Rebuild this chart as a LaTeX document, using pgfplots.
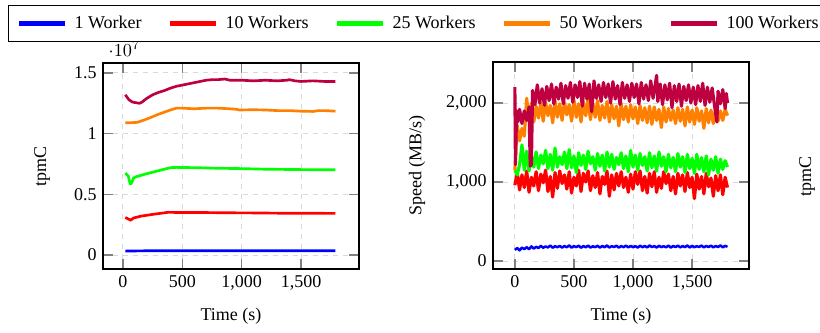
\documentclass[border=0pt]{standalone}
\usepackage{fontspec}
\setmainfont{Liberation Serif}
\usepackage{pgfplots}
\pgfplotsset{compat=1.18}
\definecolor{cpurple}{rgb}{0.75,0,0.25}
\definecolor{corange}{rgb}{1,0.5,0}
\definecolor{cgreen}{rgb}{0,1,0}
\pgfplotsset{
  myaxis/.style={
    scale only axis,
    anchor=south west,
    width=153.6pt,
    axis line style={line width=1.4pt},
    grid=major,
    grid style={dashed, gray!30, line width=0.6pt},
    tick align=inside,
    major tick length=6pt,
    tick style={gray, line width=0.8pt},
    /pgf/number format/assume math mode=true,
    xtick={0,500,1000,1500},
    xlabel={Time (s)},
    legend image code/.code={\draw[#1, line width=3pt] (0pt,0pt) -- (27.6pt,0pt);},
  },
}
\begin{document}
\fontsize{10.8}{13}\selectfont
\begin{tikzpicture}
% ---------------- left: tpmC ----------------
\begin{axis}[myaxis,
  at={(61.8pt,37.8pt)}, height=123.6pt,
  xmin=-168, xmax=1988, ymin=-0.115e7, ymax=1.582e7,
  ytick={0,0.5e7,1e7,1.5e7},
  ylabel={tpmC},
  x label style={at={(axis description cs:0.5,-0.228)},anchor=center},
  y label style={at={(axis description cs:-0.238,0.5)},anchor=center},
  legend columns=5,
  legend style={at={(-0.371,1.283)}, anchor=north west, draw=black, line width=0.6pt,
    inner xsep=5pt, inner ysep=4.2pt,
    /tikz/every even column/.append style={column sep=13.8pt},
    /tikz/every odd column/.append style={column sep=2pt}},
  legend cell align=left,
]
\addplot[blue, line width=1.6pt] coordinates {(20,0.033e7)(200,0.035e7)(1000,0.035e7)(1790,0.035e7)};
\addlegendentry{1 Worker}
\addplot[red, line width=1.6pt] coordinates {(20,0.31e7)(50,0.295e7)(65,0.288e7)(90,0.305e7)(150,0.32e7)(250,0.335e7)(380,0.352e7)(500,0.35e7)(700,0.35e7)(900,0.348e7)(1100,0.347e7)(1300,0.345e7)(1500,0.345e7)(1790,0.343e7)};
\addlegendentry{10 Workers}
\addplot[cgreen, line width=1.6pt] coordinates {(20,0.675e7)(45,0.65e7)(60,0.59e7)(70,0.59e7)(90,0.635e7)(110,0.645e7)(200,0.67e7)(300,0.695e7)(400,0.72e7)(450,0.722e7)(600,0.72e7)(800,0.715e7)(1000,0.712e7)(1200,0.707e7)(1400,0.705e7)(1600,0.703e7)(1790,0.702e7)};
\addlegendentry{25 Workers}
\addplot[corange, line width=1.6pt] coordinates {(20,1.09e7)(60,1.09e7)(120,1.093e7)(200,1.12e7)(300,1.16e7)(400,1.195e7)(450,1.21e7)(500,1.21e7)(600,1.205e7)(700,1.21e7)(800,1.21e7)(900,1.205e7)(960,1.2e7)(980,1.195e7)(1100,1.197e7)(1200,1.195e7)(1300,1.19e7)(1400,1.19e7)(1500,1.185e7)(1600,1.183e7)(1650,1.19e7)(1700,1.19e7)(1790,1.185e7)};
\addlegendentry{50 Workers}
\addplot[cpurple, line width=1.6pt] coordinates {(20,1.32e7)(50,1.28e7)(80,1.26e7)(110,1.255e7)(140,1.25e7)(160,1.26e7)(200,1.29e7)(250,1.32e7)(300,1.34e7)(350,1.355e7)(400,1.375e7)(450,1.39e7)(500,1.40e7)(600,1.42e7)(700,1.44e7)(750,1.445e7)(800,1.445e7)(860,1.45e7)(900,1.44e7)(1000,1.44e7)(1100,1.435e7)(1200,1.44e7)(1300,1.435e7)(1380,1.44e7)(1400,1.445e7)(1450,1.435e7)(1500,1.43e7)(1600,1.435e7)(1700,1.43e7)(1790,1.43e7)};
\addlegendentry{100 Workers\hspace{24pt}}
\end{axis}
% ---------------- middle: speed ----------------
\begin{axis}[myaxis,
  at={(295.8pt,37.8pt)}, height=124.2pt,
  xmin=-185, xmax=1982, ymin=-101, ymax=2519,
  ytick={0,1000,2000},
  ylabel={Speed (MB/s)},
  x label style={at={(axis description cs:0.5,-0.227)},anchor=center},
  y label style={at={(axis description cs:-0.297,0.5)},anchor=center},
  every axis plot/.append style={line width=1.9pt, line join=round},
]
\addplot[blue, line width=1.5pt] coordinates {(0,140)(20,165)(40,135)(60,170)(80,150)(100,175)(120,150)(140,185)(160,158)(180,180)(200,165)(220,192)(240,168)(260,185)(280,172)(300,196)(320,168)(340,188)(360,174)(380,192)(400,170)(420,190)(440,175)(460,198)(480,170)(500,188)(520,176)(540,194)(560,168)(580,190)(600,174)(620,196)(640,170)(660,186)(680,176)(700,193)(720,170)(740,190)(760,175)(780,197)(800,171)(820,188)(840,177)(860,194)(880,170)(900,189)(920,175)(940,196)(960,172)(980,191)(1000,176)(1020,188)(1040,170)(1060,194)(1080,175)(1100,190)(1120,172)(1140,197)(1160,177)(1180,189)(1200,171)(1220,193)(1240,176)(1260,188)(1280,173)(1300,196)(1320,170)(1340,190)(1360,177)(1380,195)(1400,172)(1420,189)(1440,176)(1460,197)(1480,171)(1500,192)(1520,175)(1540,188)(1560,178)(1580,196)(1600,172)(1620,191)(1640,177)(1660,195)(1680,173)(1700,190)(1720,178)(1740,197)(1760,174)(1780,192)(1800,180)};
\addplot[red] coordinates {(0,960)(20,1120)(40,900)(60,1090)(80,930)(100,1140)(120,870)(140,1060)(160,950)(180,1130)(200,890)(220,1100)(240,990)(260,1150)(280,880)(300,1070)(320,810)(340,1120)(360,920)(380,1140)(400,980)(420,1090)(440,910)(460,1130)(480,860)(500,1060)(520,950)(540,1150)(560,880)(580,1110)(600,1000)(620,1140)(640,890)(660,1080)(680,930)(700,1120)(720,850)(740,1070)(760,970)(780,1140)(800,820)(820,1090)(840,900)(860,1110)(880,950)(900,1130)(920,930)(940,1060)(960,870)(980,1100)(1000,910)(1020,1130)(1040,970)(1060,1140)(1080,890)(1100,1070)(1120,860)(1140,1110)(1160,940)(1180,1130)(1200,870)(1220,1060)(1240,920)(1260,1130)(1280,980)(1300,1100)(1320,890)(1340,1070)(1360,850)(1380,1110)(1400,950)(1420,1090)(1440,880)(1460,1120)(1480,930)(1500,1060)(1520,790)(1540,1100)(1560,910)(1580,1070)(1600,850)(1620,1110)(1640,940)(1660,1050)(1680,820)(1700,1080)(1720,890)(1740,1090)(1760,840)(1780,1060)(1800,930)};
\addplot[cgreen] coordinates {(0,1150)(20,1090)(40,1220)(60,1470)(80,1150)(100,1390)(120,1140)(140,1330)(160,1190)(180,1380)(200,1170)(220,1340)(240,1230)(260,1400)(280,1170)(300,1350)(320,1150)(340,1430)(360,1190)(380,1320)(400,1220)(420,1380)(440,1170)(460,1410)(480,1180)(500,1330)(520,1120)(540,1370)(560,1210)(580,1340)(600,1160)(620,1390)(640,1230)(660,1320)(680,1150)(700,1360)(720,1200)(740,1340)(760,1140)(780,1380)(800,1190)(820,1350)(840,1160)(860,1310)(880,1220)(900,1370)(920,1170)(940,1330)(960,1130)(980,1400)(1000,1190)(1020,1340)(1040,1150)(1060,1360)(1080,1210)(1100,1320)(1120,1140)(1140,1370)(1160,1180)(1180,1330)(1200,1140)(1220,1380)(1240,1200)(1260,1320)(1280,1130)(1300,1350)(1320,1180)(1340,1310)(1360,1130)(1380,1360)(1400,1190)(1420,1320)(1440,1120)(1460,1350)(1480,1170)(1500,1300)(1520,1110)(1540,1350)(1560,1160)(1580,1310)(1600,1130)(1620,1330)(1640,1090)(1660,1290)(1680,1150)(1700,1320)(1720,1110)(1740,1290)(1760,1160)(1780,1270)(1800,1190)};
\addplot[corange] coordinates {(0,1150)(20,1720)(40,1520)(60,1680)(80,1580)(100,2060)(120,1780)(140,2000)(160,1760)(180,1960)(200,1810)(220,2000)(240,1770)(260,2010)(280,1840)(300,1970)(320,1750)(340,2030)(360,1820)(380,1990)(400,1780)(420,2010)(440,1850)(460,1980)(480,1770)(500,2040)(520,1820)(540,1990)(560,1760)(580,2020)(600,1840)(620,2050)(640,1790)(660,2000)(680,1820)(700,2030)(720,1780)(740,1970)(760,1810)(780,2020)(800,1760)(820,1980)(840,1800)(860,1960)(880,1710)(900,2000)(920,1790)(940,1960)(960,1760)(980,1980)(1000,1800)(1020,1950)(1040,1740)(1060,1970)(1080,1780)(1100,1940)(1120,1750)(1140,1960)(1160,1730)(1180,1950)(1200,1780)(1220,1920)(1240,1690)(1260,1950)(1280,1760)(1300,1930)(1320,1780)(1340,1910)(1360,1740)(1380,1940)(1400,1770)(1420,1920)(1440,1710)(1460,1950)(1480,1760)(1500,1910)(1520,1730)(1540,1940)(1560,1770)(1580,1900)(1600,1680)(1620,1930)(1640,1750)(1660,1910)(1680,1740)(1700,1930)(1720,1770)(1740,1900)(1760,1780)(1780,1920)(1800,1840)};
\addplot[cpurple] coordinates {(0,2200)(5,1220)(15,1900)(25,1760)(40,1920)(60,1740)(80,1900)(100,1780)(120,1950)(130,1200)(140,1220)(150,2160)(170,1980)(190,2230)(210,2000)(230,2180)(250,1970)(270,2210)(290,2030)(310,2240)(330,1990)(350,2200)(370,2050)(390,2250)(410,1990)(430,2220)(450,2060)(470,2260)(490,2010)(510,2230)(530,2070)(550,2270)(570,1960)(590,2250)(610,2050)(630,2240)(650,1890)(670,2280)(690,2060)(710,2230)(730,2020)(750,2260)(770,2070)(790,2240)(810,2000)(830,2270)(850,2050)(870,2220)(890,1980)(910,2260)(930,2060)(950,2230)(970,2020)(990,2250)(1010,2070)(1030,2240)(1050,1990)(1070,2260)(1090,2050)(1110,2230)(1130,2030)(1150,2280)(1170,2060)(1190,2250)(1200,2350)(1210,2020)(1230,2240)(1250,1980)(1270,2230)(1290,2040)(1310,2250)(1330,1940)(1350,2220)(1370,2020)(1390,2240)(1410,1960)(1430,2210)(1450,2030)(1470,2230)(1490,2000)(1510,2200)(1530,1980)(1550,2220)(1570,2020)(1590,2250)(1610,1970)(1630,2200)(1650,2010)(1670,2190)(1690,1970)(1710,1760)(1720,2150)(1740,1990)(1760,2170)(1780,1930)(1790,2120)(1800,2000)};
\end{axis}
% ---------------- right (cut off): tpmC ----------------
\begin{axis}[myaxis,
  at={(520.8pt,37.8pt)}, height=123.6pt,
  xmin=-168, xmax=1988, ymin=-0.115e7, ymax=1.582e7,
  ytick={0,0.5e7,1e7,1.5e7},
  xticklabels={}, yticklabels={}, scaled y ticks=false, xlabel={},
  ylabel={tpmC},
  y label style={at={(axis description cs:-0.238,0.447)},anchor=center},
]
\addplot[draw=none] coordinates {(0,0)(1800,1e7)};
\end{axis}
\pgfresetboundingbox
\useasboundingbox (0pt,0pt) rectangle (492pt,199.2pt);
\end{tikzpicture}
\end{document}
